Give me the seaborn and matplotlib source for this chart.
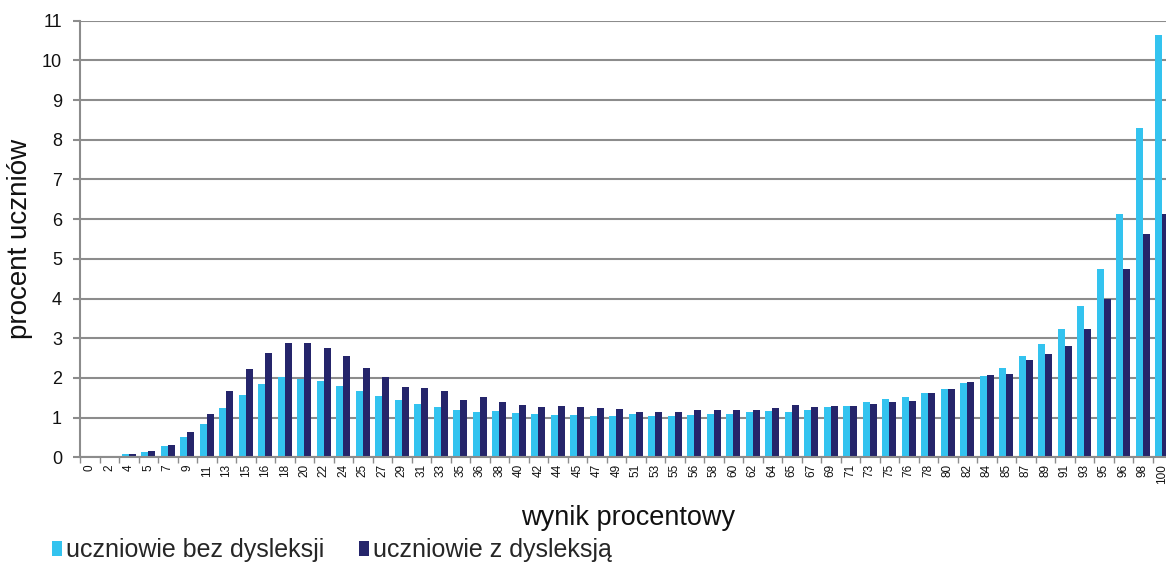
import matplotlib
matplotlib.use("Agg")
import matplotlib.pyplot as plt
import seaborn as sns
import pandas as pd
import numpy as np
from matplotlib.patches import Patch

categories = ["0", "2", "4", "5", "7", "9", "11", "13", "15", "16", "18", "20", "22", "24",
              "25", "27", "29", "31", "33", "35", "36", "38", "40", "42", "44", "45", "47", "49",
              "51", "53", "55", "56", "58", "60", "62", "64", "65", "67", "69", "71", "73", "75",
              "76", "78", "80", "82", "84", "85", "87", "89", "91", "93", "95", "96", "98", "100"]

bez_dysleksji = [0.03, 0.03, 0.08, 0.14, 0.28, 0.52, 0.84, 1.24, 1.56, 1.85, 2.03, 1.98, 1.93, 1.79,
                 1.66, 1.55, 1.45, 1.34, 1.26, 1.18, 1.14, 1.16, 1.11, 1.09, 1.06, 1.07, 1.04, 1.03,
                 1.08, 1.05, 1.05, 1.07, 1.08, 1.09, 1.13, 1.17, 1.15, 1.19, 1.26, 1.30, 1.39, 1.46,
                 1.51, 1.61, 1.71, 1.86, 2.04, 2.24, 2.54, 2.86, 3.23, 3.81, 4.74, 6.14, 8.30, 10.63]

z_dysleksja = [0.03, 0.03, 0.08, 0.17, 0.32, 0.63, 1.10, 1.68, 2.23, 2.64, 2.87, 2.89, 2.76, 2.54,
               2.26, 2.02, 1.78, 1.74, 1.66, 1.45, 1.51, 1.40, 1.33, 1.27, 1.28, 1.27, 1.24, 1.21,
               1.13, 1.13, 1.15, 1.20, 1.20, 1.20, 1.18, 1.24, 1.31, 1.26, 1.29, 1.29, 1.34, 1.39,
               1.42, 1.61, 1.71, 1.90, 2.08, 2.10, 2.46, 2.60, 2.81, 3.22, 4.00, 4.74, 5.63, 6.12]

series_names = ["uczniowie bez dysleksji", "uczniowie z dysleksją"]
colors = ["#33C3EF", "#25256B"]

df = pd.DataFrame({
    "wynik": categories * 2,
    "procent": bez_dysleksji + z_dysleksja,
    "grupa": [series_names[0]] * len(categories) + [series_names[1]] * len(categories),
})

sns.set_theme(style="white")
plt.rcParams["font.family"] = ["Liberation Sans", "DejaVu Sans"]

fig = plt.figure(figsize=(11.66, 5.62), dpi=100)
ax = fig.add_axes([80 / 1166, 1 - 457.3 / 562, (1172 - 80) / 1166, (457.3 - 20.7) / 562])

sns.barplot(data=df, x="wynik", y="procent", hue="grupa", order=categories,
            hue_order=series_names, palette=colors, width=0.7, gap=0,
            saturation=1, ax=ax, legend=False, linewidth=0)

ax.set_ylim(0, 11)
ax.set_xlim(-0.5, len(categories) - 0.5)
ax.set_yticks(range(0, 12))
ax.yaxis.grid(True, color="#8c8c8c", linewidth=1.5)
ax.set_axisbelow(True)
for s in ["top", "right"]:
    ax.spines[s].set_visible(False)
for s in ["left", "bottom"]:
    ax.spines[s].set_color("#8c8c8c")
    ax.spines[s].set_linewidth(1.5)

ax.tick_params(axis="y", labelsize=13, length=5, width=1.5, color="#8c8c8c", left=True,
               pad=8, labelcolor="#111111")
ax.set_xticks(range(len(categories)))
ax.set_xticklabels(categories, rotation=90, fontsize=8.5)
ax.tick_params(axis="x", which="major", length=0, pad=5, labelcolor="#111111")
ax.set_xticks(np.arange(-0.5, len(categories), 1.0), minor=True)
ax.tick_params(axis="x", which="minor", length=4, width=1, color="#8c8c8c", bottom=True)

ax.set_xlabel("wynik procentowy", fontsize=19.5, color="#111111", va="top")
ax.xaxis.set_label_coords((628 - 80) / (1172 - 80), -0.11)
ax.set_ylabel("procent uczniów", fontsize=20, labelpad=6, color="#111111")

handles = [Patch(facecolor=c, edgecolor="none") for c in colors]
fig.legend(handles, series_names, loc="lower left", bbox_to_anchor=(0.032, -0.027), ncol=2,
           frameon=False, fontsize=18, handlelength=0.4, handleheight=0.55,
           handletextpad=0.15, columnspacing=1.4, borderaxespad=0.2)

fig.savefig("out.png", dpi=100)
